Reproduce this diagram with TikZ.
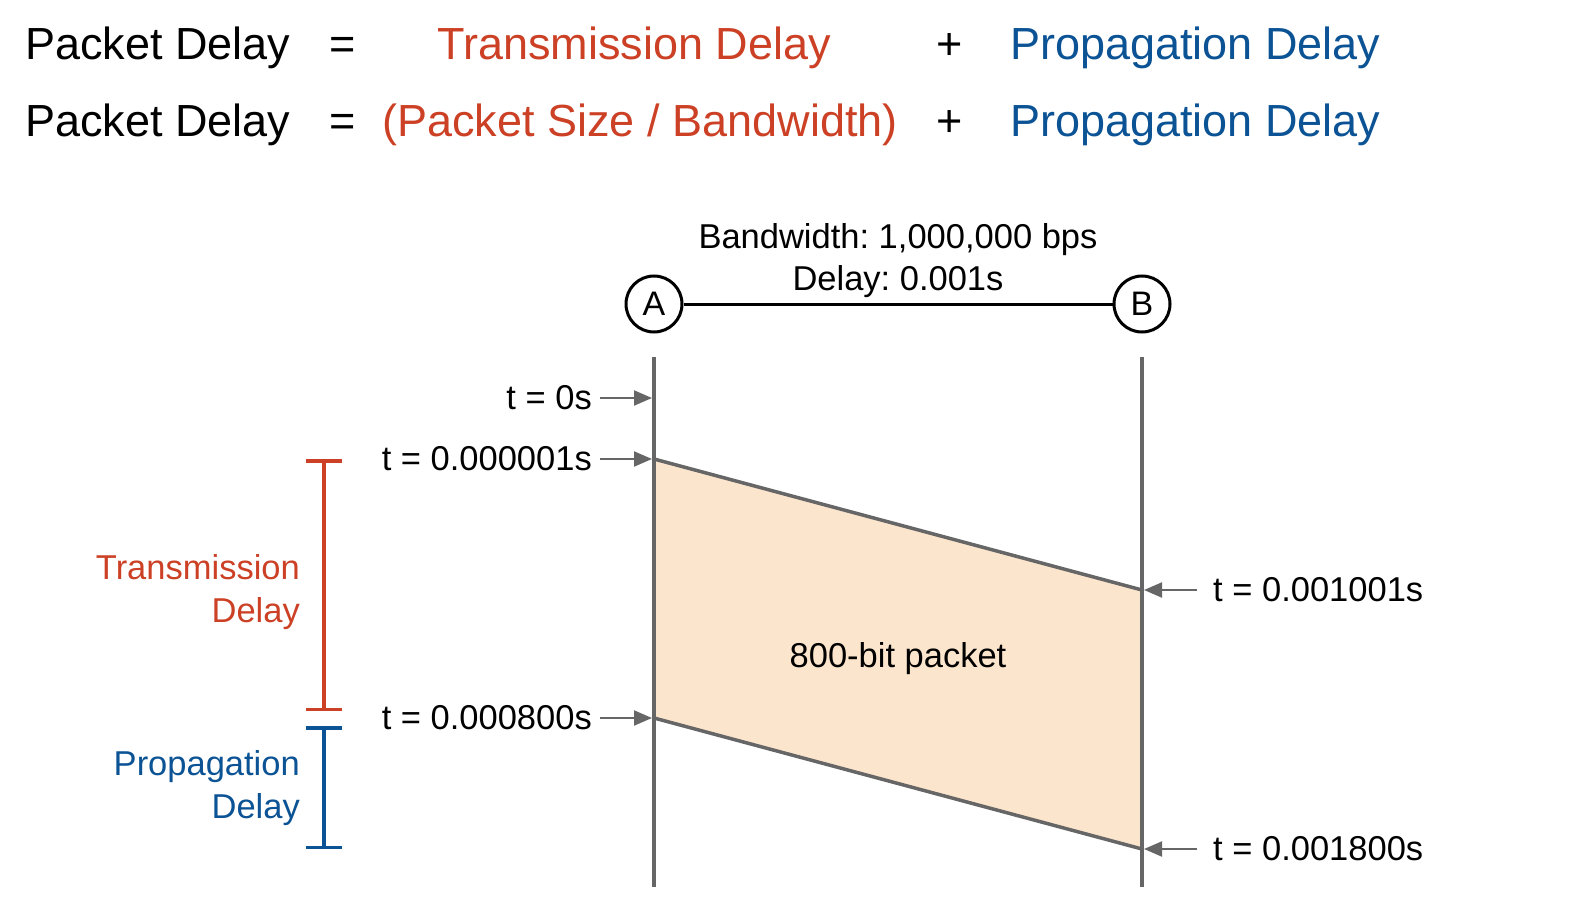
\documentclass[tikz,border=0pt]{standalone}
\usepackage{fontspec}
\setmainfont{Liberation Sans}
\usetikzlibrary{arrows.meta}
\definecolor{tred}{HTML}{CC4125}
\definecolor{pblue}{HTML}{0B5394}
\definecolor{lgray}{HTML}{666666}
\definecolor{peach}{HTML}{FCE5CD}
\frenchspacing
\begin{document}
\begin{tikzpicture}[x=1pt,y=-1pt,
  big/.style={font=\fontsize{45}{50}\selectfont, inner sep=0pt, anchor=base},
  lab/.style={font=\fontsize{34.5}{43}\selectfont, inner sep=0pt},
  host/.style={circle, draw=black, line width=3pt, minimum size=56pt, inner sep=0pt, font=\fontsize{34}{40}\selectfont},
  timeline/.style={draw=lgray, line width=3.5pt},
  tarrow/.style={draw=lgray, line width=2pt, -{Triangle[length=18pt,width=15pt]}},
  bracket/.style={line width=3.5pt, {Bar[width=36pt,line width=3.5pt]}-{Bar[width=36pt,line width=3.5pt]}}
]
\useasboundingbox (0,0) rectangle (1575,923);

% formulas
\node[big, anchor=base west] (pd1) at (25,60) {Packet Delay};
\node[big] (eq1) at (343,60) {=};
\node[big, text=tred] (td1) at (634,60) {Transmission Delay};
\node[big] (pl1) at (950,60) {+};
\node[big, anchor=base west, text=pblue] (pr1) at (1010,60) {Propagation Delay};

\node[big, anchor=base west] (pd2) at (25,137) {Packet Delay};
\node[big] (eq2) at (343,137) {=};
\node[big, text=tred] (td2) at (640,137) {(Packet Size / Bandwidth)};
\node[big] (pl2) at (950,137) {+};
\node[big, anchor=base west, text=pblue] (pr2) at (1010,137) {Propagation Delay};

% link
\node[host] (A) at (654,304) {A};
\node[host] (B) at (1142,304) {B};
\draw[line width=3pt] (A) -- (B);
\node[lab, anchor=base] (bw) at (898,248) {Bandwidth: 1,000,000 bps};
\node[lab, anchor=base] (dl) at (898,290) {Delay: 0.001s};

% packet
\coordinate (p1) at (654,459);
\coordinate (p2) at (1142,590);
\coordinate (p3) at (1142,849);
\coordinate (p4) at (654,718);
\fill[peach] (p1) -- (p2) -- (p3) -- (p4) -- cycle;
\draw[timeline] (p1) -- (p2);
\draw[timeline] (p4) -- (p3);
\node[lab, anchor=base] (pk) at (898,667) {800-bit packet};

% timelines
\coordinate (At) at (654,357);
\coordinate (Ab) at (654,887);
\coordinate (Bt) at (1142,357);
\coordinate (Bb) at (1142,887);
\draw[timeline] (At) -- (Ab);
\draw[timeline] (Bt) -- (Bb);

% time labels
\coordinate (a0) at (652,398);
\coordinate (a1) at (652,459);
\coordinate (a2) at (652,718);
\coordinate (b1) at (1144,590);
\coordinate (b2) at (1144,849);
\node[lab, anchor=east] (t0) at (592,398) {t = 0s};
\node[lab, anchor=east] (t1) at (592,459) {t = 0.000001s};
\node[lab, anchor=east] (t2) at (592,718) {t = 0.000800s};
\node[lab, anchor=west] (t3) at (1213,590) {t = 0.001001s};
\node[lab, anchor=west] (t4) at (1213,849) {t = 0.001800s};
\draw[tarrow] ([xshift=8pt]t0.east) -- (a0);
\draw[tarrow] ([xshift=8pt]t1.east) -- (a1);
\draw[tarrow] ([xshift=8pt]t2.east) -- (a2);
\draw[tarrow] ([xshift=-16pt]t3.west) -- (b1);
\draw[tarrow] ([xshift=-16pt]t4.west) -- (b2);

% brackets
\coordinate (r1) at (324,459);
\coordinate (r2) at (324,711);
\coordinate (u1) at (324,726);
\coordinate (u2) at (324,849);
\draw[bracket, tred] (r1) -- (r2);
\draw[bracket, pblue] (u1) -- (u2);
\node[lab, text=tred, align=right, anchor=north east] (tdl) at (300,554) {Transmission\\Delay};
\node[lab, text=pblue, align=right, anchor=north east] (pdl) at (300,750) {Propagation\\Delay};
\end{tikzpicture}
\end{document}
